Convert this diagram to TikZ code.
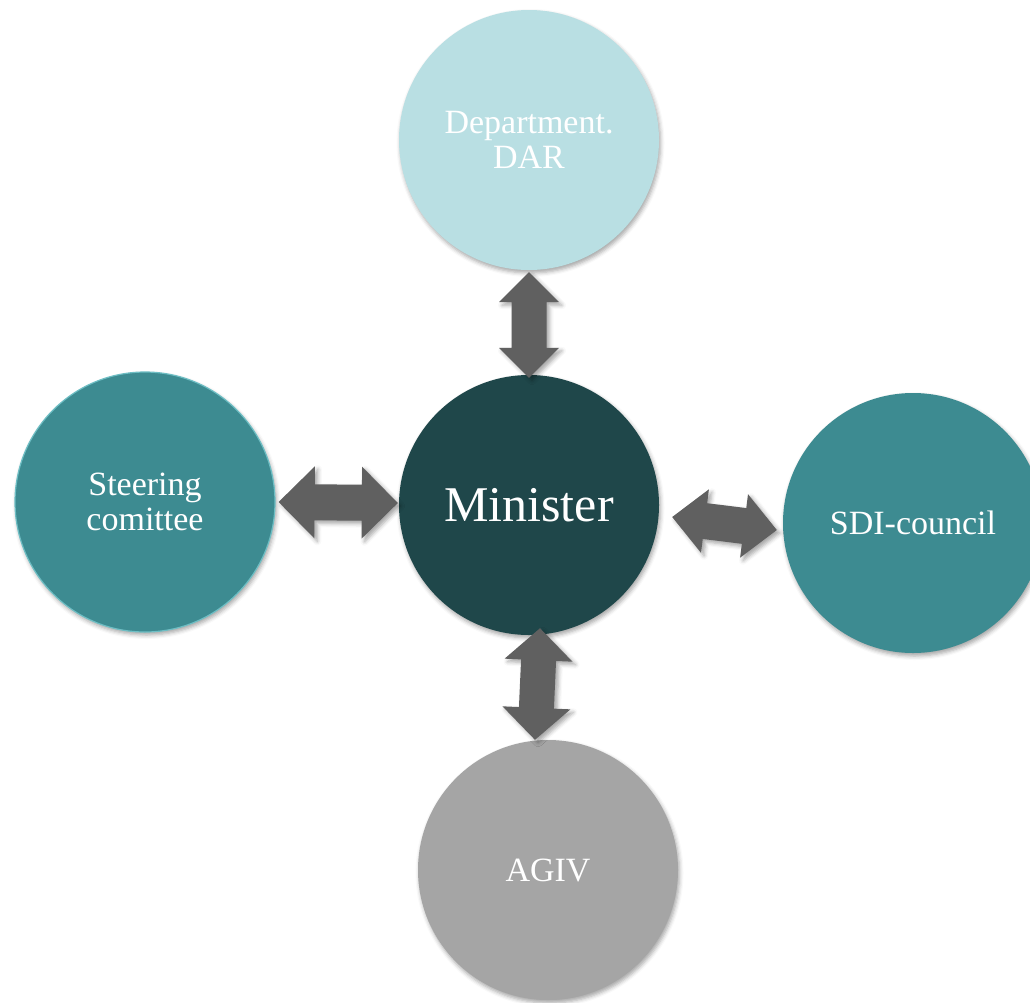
\documentclass[tikz,border=0pt]{standalone}
\usepackage{fontspec}
\setmainfont{Liberation Serif}
\usetikzlibrary{calc,shadows.blur}
\definecolor{darlight}{HTML}{B9DFE3}
\definecolor{tealmid}{HTML}{3D8B91}
\definecolor{tealedge}{HTML}{6EBEC4}
\definecolor{tealdark}{HTML}{1F474A}
\definecolor{greycirc}{HTML}{A5A5A5}
\definecolor{arrowgrey}{HTML}{606060}
\tikzset{
  bubble/.style={circle, minimum size=260pt, inner sep=0pt, text=white,
    align=center, font=\fontsize{34}{35.5}\selectfont,
    blur shadow={shadow xshift=1.5pt, shadow yshift=-3pt, shadow blur radius=4pt, shadow opacity=35}},
  link/.style={fill=arrowgrey,
    blur shadow={shadow xshift=3pt, shadow yshift=-3pt, shadow blur radius=4pt, shadow opacity=35}},
}
\newcommand\dblarrow[5]{%
  \path ($(#1)!#5!(#2)$) coordinate (h1) ($(#2)!#5!(#1)$) coordinate (h2);
  \fill[link] (#1) -- ($(h1)!#4!90:(#2)$) -- ($(h1)!#3!90:(#2)$)
    -- ($(h2)!#3!-90:(#1)$) -- ($(h2)!#4!-90:(#1)$) -- (#2)
    -- ($(h2)!#4!90:(#1)$) -- ($(h2)!#3!90:(#1)$)
    -- ($(h1)!#3!-90:(#2)$) -- ($(h1)!#4!-90:(#2)$) -- cycle;
}
\begin{document}
\begin{tikzpicture}[x=1pt,y=-1pt]
  \useasboundingbox (0,0) rectangle (1030,1002);
  \node[bubble, fill=darlight] (dar) at (529,140) {Department.\\DAR};
  \node[bubble, fill=tealmid, draw=tealedge, line width=1.2pt] (ste) at (145,502) {Steering\\comittee};
  \node[bubble, fill=tealdark, font=\fontsize{50}{52}\selectfont] (min) at (529,505) {Minister};
  \node[bubble, fill=tealmid] (sdi) at (913,523) {SDI-council};
  \node[bubble, fill=greycirc] (agiv) at (548,870) {AGIV};

  \coordinate (rA) at ($(min.east)+(13,12)$);
  \coordinate (rB) at ($(sdi.west)+(-6,7)$);
  \coordinate (bA) at ($(min.south)+(11,-7)$);
  \coordinate (bB) at ($(agiv.north)+(-13,0)$);
  \coordinate (tA) at ($(dar.south)+(0,2)$);
  \coordinate (tB) at ($(min.north)+(0,3)$);
  \coordinate (lA) at ($(ste.east)+(3,0)$);
  \coordinate (lB) at ($(min.west)+(-1,-2)$);

  \dblarrow{tA}{tB}{17.5pt}{30pt}{30pt}
  \dblarrow{lA}{lB}{18pt}{36pt}{36pt}
  \dblarrow{rA}{rB}{18pt}{32pt}{33pt}
  \dblarrow{bA}{bB}{17.5pt}{34pt}{32pt}
\end{tikzpicture}
\end{document}
